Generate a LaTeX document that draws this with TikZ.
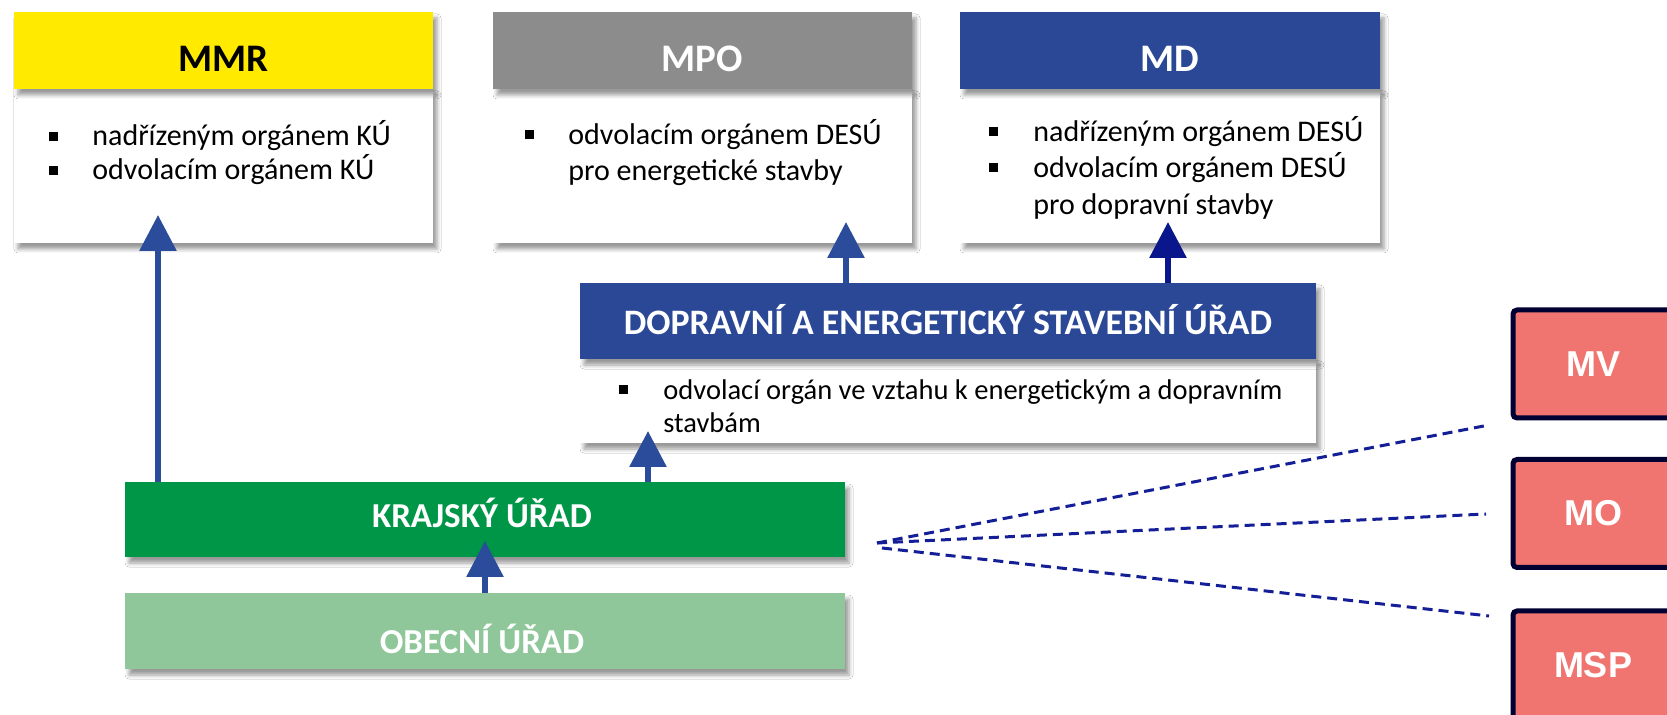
\documentclass[tikz,border=0pt]{standalone}
\usepackage{fontspec}
\setmainfont{Carlito}
\newfontfamily\arialf{Liberation Sans}
\usetikzlibrary{arrows.meta,shadows.blur}

\definecolor{hdrYellow}{RGB}{255,234,0}
\definecolor{hdrGray}{RGB}{140,140,140}
\definecolor{hdrNavy}{RGB}{42,72,150}
\definecolor{kuGreen}{RGB}{0,150,72}
\definecolor{ouGreen}{RGB}{143,199,154}
\definecolor{salmon}{RGB}{240,116,112}
\definecolor{sideBorder}{RGB}{0,0,51}
\definecolor{arrBlue}{RGB}{43,76,155}
\definecolor{mdBlue}{RGB}{10,22,140}
\definecolor{dashBlue}{RGB}{20,30,150}

\begin{document}
\begin{tikzpicture}[x=0.5pt,y=-0.5pt,
  box/.style={rectangle, inner sep=0pt, outer sep=0pt},
  shadowed/.style={blur shadow={shadow xshift=2pt, shadow yshift=-3pt, shadow blur radius=2pt, shadow opacity=40}},
  hdrtext/.style={font=\fontsize{19.5}{23}\selectfont\bfseries, anchor=base, inner sep=0pt},
  bartext/.style={font=\fontsize{17.5}{21}\selectfont\bfseries, text=white, anchor=base, inner sep=0pt},
  bodytext/.style={font=\fontsize{15}{18}\selectfont, anchor=base west, inner sep=0pt},
  desbody/.style={font=\fontsize{14.25}{17}\selectfont, anchor=base west, inner sep=0pt},
  bulletsq/.style={rectangle, fill=black, minimum size=4.5pt, inner sep=0pt},
  arr/.style={-{Triangle[length=18pt,width=18pt]}, line width=3pt, draw=arrBlue},
  link/.style={draw=dashBlue, line width=1.5pt, dash pattern=on 5pt off 3pt},
  side/.style={rectangle, rounded corners=2pt, draw=sideBorder, line width=2.5pt, fill=salmon, minimum width=80pt, minimum height=54pt, inner sep=0pt, font=\arialf\bfseries\fontsize{18}{21}\selectfont, text=white}
]
\useasboundingbox (0,0) rectangle (1667,715);
\clip (0,0) rectangle (1667,715);
\fill[white] (0,0) rectangle (1667,715);

% ---------- MMR ----------
\node[box, shadowed, fill=white, minimum width=209.5pt, minimum height=77pt] (MMRb) at (223.5,166) {};
\node[box, shadowed, fill=hdrYellow, minimum width=209.5pt, minimum height=38.5pt] (MMRh) at (223.5,50.5) {};
\node[hdrtext] (MMRt) at (223.5,72) {MMR};
\node[bulletsq] (MMRb1) at (53,137) {};
\node[bodytext] (MMRl1) at (92,146) {nadřízeným orgánem KÚ};
\node[bulletsq] (MMRb2) at (53,171) {};
\node[bodytext] (MMRl2) at (92,180) {odvolacím orgánem KÚ};

% ---------- MPO ----------
\node[box, shadowed, fill=white, minimum width=209.5pt, minimum height=77pt] (MPOb) at (702.5,166) {};
\node[box, shadowed, fill=hdrGray, minimum width=209.5pt, minimum height=38.5pt] (MPOh) at (702.5,50.5) {};
\node[hdrtext, text=white] (MPOt) at (702.5,72) {MPO};
\node[bulletsq] (MPOb1) at (529,135) {};
\node[bodytext] (MPOl1) at (568,145) {odvolacím orgánem DESÚ};
\node[bodytext] (MPOl2) at (568,181) {pro energetické stavby};

% ---------- MD ----------
\node[box, shadowed, fill=white, minimum width=210pt, minimum height=77pt] (MDb) at (1170,166) {};
\node[box, shadowed, fill=hdrNavy, minimum width=210pt, minimum height=38.5pt] (MDh) at (1170,50.5) {};
\node[hdrtext, text=white] (MDt) at (1170,72) {MD};
\node[bulletsq] (MDb1) at (993.5,132) {};
\node[bodytext] (MDl1) at (1033,142) {nadřízeným orgánem DESÚ};
\node[bulletsq] (MDb2) at (993.5,168) {};
\node[bodytext] (MDl2) at (1033,178) {odvolacím orgánem DESÚ};
\node[bodytext] (MDl3) at (1033,215) {pro dopravní stavby};

% ---------- DESÚ ----------
\node[box, shadowed, fill=white, minimum width=368pt, minimum height=42pt] (DESb) at (948,401) {};
\node[box, shadowed, fill=hdrNavy, minimum width=368pt, minimum height=38pt] (DESh) at (948,321) {};
\node[bartext, font=\fontsize{17.9}{21}\selectfont\bfseries] (DESt) at (948,335) {DOPRAVNÍ A ENERGETICKÝ STAVEBNÍ ÚŘAD};
\node[bulletsq] (DESb1) at (623,390) {};
\node[desbody] (DESl1) at (663,400) {odvolací orgán ve vztahu k energetickým a dopravním};
\node[desbody] (DESl2) at (663,433) {stavbám};

% ---------- KÚ / OÚ ----------
\node[box, shadowed, fill=kuGreen, minimum width=360pt, minimum height=37.5pt] (KU) at (485,519.5) {};
\node[bartext] (KUt) at (482,528) {KRAJSKÝ ÚŘAD};
\node[box, shadowed, fill=ouGreen, minimum width=360pt, minimum height=38pt] (OU) at (485,631) {};
\node[bartext] (OUt) at (482,654) {OBECNÍ ÚŘAD};

% ---------- side boxes ----------
\node[side] (MV) at (1593,364) {MV};
\node[side] (MO) at (1593,513.5) {MO};
\node[side] (MSP) at (1593,665) {MSP};

% ---------- arrows ----------
\coordinate (tMMR) at (158,215);
\coordinate (tMPO) at (846,222);
\coordinate (tMD) at (1168,222);
\coordinate (tDES) at (648,431);
\coordinate (tKU) at (485,541);
\draw[arr] (KU.north -| tMMR) -- (tMMR);
\draw[arr] (DESh.north -| tMPO) -- (tMPO);
\draw[arr, draw=mdBlue] (DESh.north -| tMD) -- (tMD);
\draw[arr] (KU.north -| tDES) -- (tDES);
\draw[arr] (OU.north -| tKU) -- (tKU);

% ---------- dashed links ----------
\coordinate (fanA) at (877,543);
\coordinate (fanB) at (882,548);
\coordinate (eMV) at (1489,425);
\coordinate (eMO) at (1486,514);
\coordinate (eMSP) at (1489,616);
\draw[link] (fanA) -- (eMV);
\draw[link] (fanA) -- (eMO);
\draw[link] (fanB) -- (eMSP);
\end{tikzpicture}
\end{document}
